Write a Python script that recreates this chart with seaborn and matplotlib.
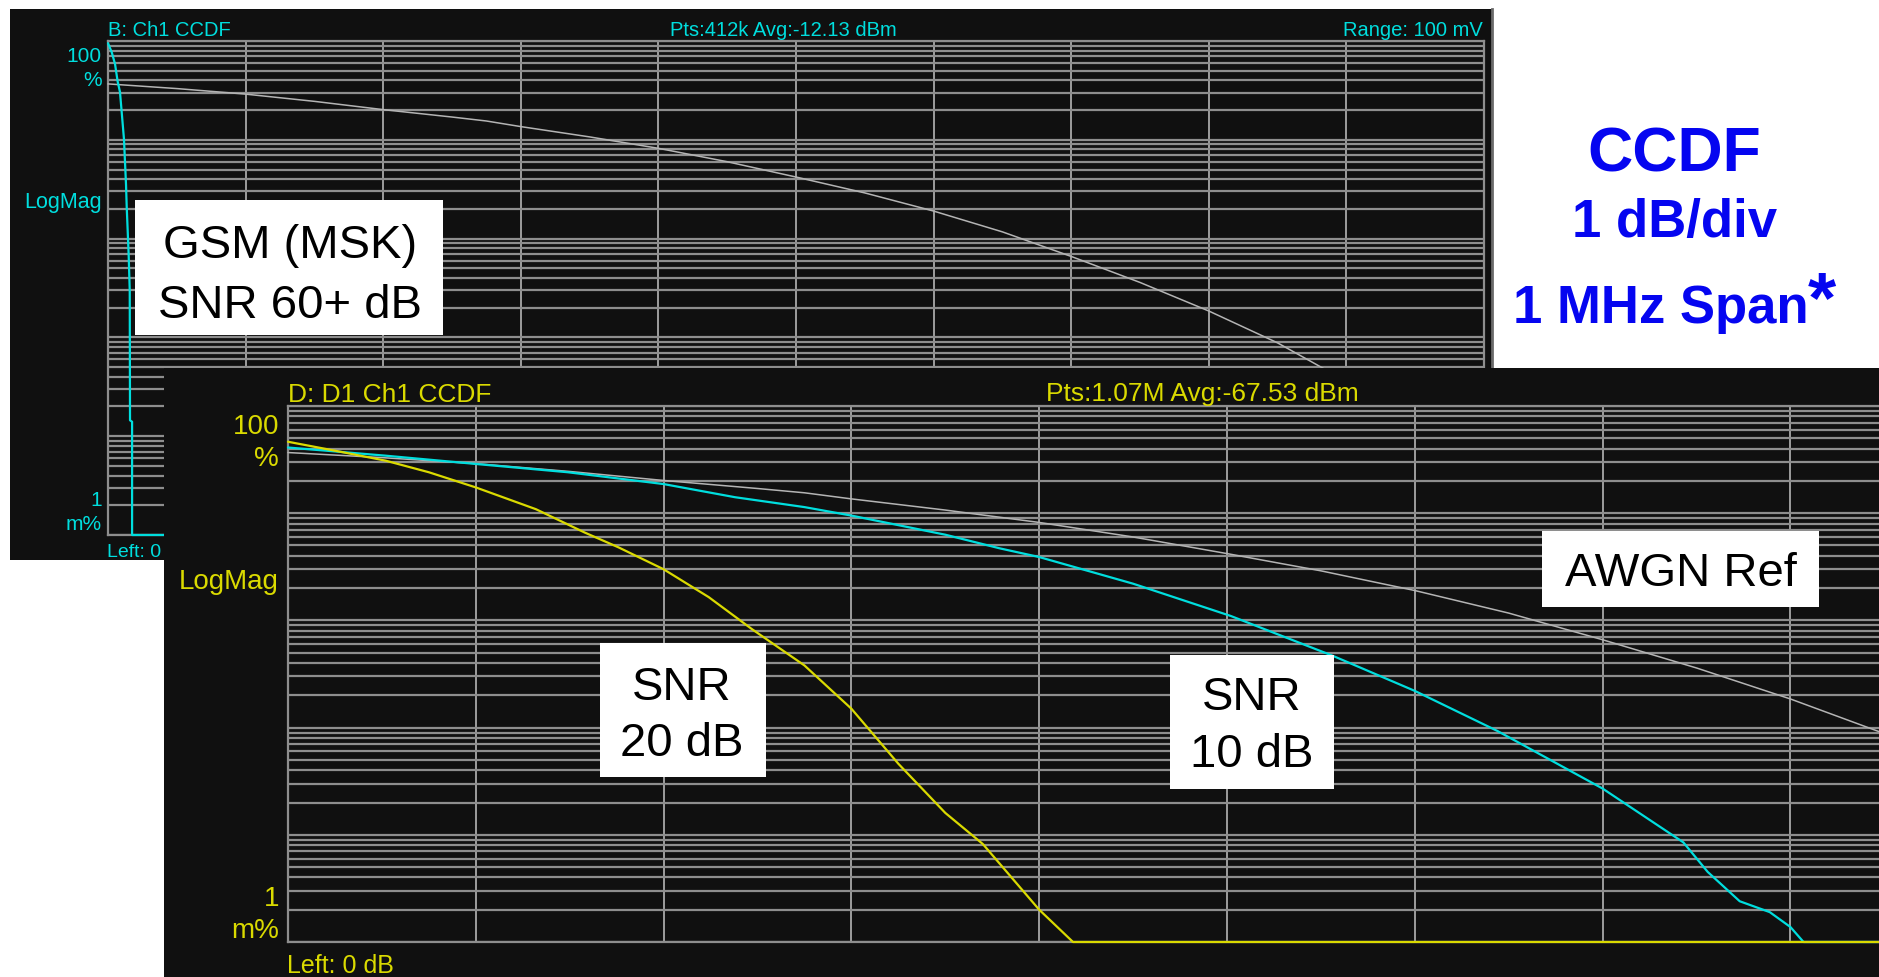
import numpy as np
import pandas as pd
import seaborn as sns
import matplotlib
matplotlib.use("Agg")
from matplotlib import pyplot as plt
from matplotlib.patches import Rectangle
from matplotlib.ticker import LogLocator, MultipleLocator, NullFormatter

# values read off the two analyser screens
# x: dB above average power, y: CCDF as a fraction (1 = 100 %, 1e-5 = 1 m%)
awgn_db = [0.0, 0.5, 1.0, 1.5, 2.0, 2.5, 2.75, 3.0, 3.5, 4.0, 4.5, 5.0,
           5.5, 6.0, 6.5, 7.0, 7.5, 8.0, 8.5, 9.0, 9.5, 10.0]
awgn_ccdf = [0.368, 0.33, 0.29, 0.245, 0.202, 0.17, 0.155, 0.136, 0.107, 0.082, 0.060, 0.042,
             0.029, 0.019, 0.0117, 0.0066, 0.0036, 0.00185, 0.00088, 0.00036, 0.00014, 0.00005]

gsm_db = [0.0, 0.027, 0.051, 0.07, 0.087, 0.10, 0.116, 0.131, 0.136, 0.150,
          0.158, 0.160, 0.175, 0.175, 10.0]
gsm_ccdf = [0.95, 0.77, 0.585, 0.39, 0.305, 0.187, 0.102, 0.035, 0.021, 0.0069,
            0.003, 0.000145, 0.00014, 0.00001, 0.00001]

snr10_db = [0.0, 0.52, 1.0, 1.49, 2.0, 2.38, 2.75, 3.0, 3.5, 3.79, 4.0, 4.5, 5.02, 5.56,
            6.0, 6.44, 7.0, 7.43, 7.56, 7.73, 7.89, 8.0, 8.07, 10.0]
snr10_ccdf = [0.41, 0.344, 0.288, 0.241, 0.187, 0.141, 0.114, 0.095, 0.063, 0.047, 0.039,
              0.022, 0.011, 0.0047, 0.0022, 0.00093, 0.00027, 0.000085, 0.000045,
              0.000024, 0.000019, 0.0000138, 0.00001, 0.00001]

snr20_db = [0.0, 0.25, 0.52, 0.75, 1.0, 1.32, 1.58, 1.76, 2.0, 2.24, 2.47, 2.75,
            3.0, 3.25, 3.5, 3.7, 4.0, 4.18, 10.0]
snr20_ccdf = [0.464, 0.383, 0.309, 0.241, 0.174, 0.109, 0.066, 0.048, 0.030, 0.0165,
              0.0083, 0.0038, 0.0015, 0.00046, 0.00016, 0.000082, 0.00002, 0.00001, 0.00001]

W, H = 1879, 978
SCREEN = "#101010"
H_GRID = "#8e8e8e"
V_GRID = "#a8a8a8"
CYAN = "#00dede"
YELLOW = "#dada00"
GREY = "#b4b4b4"
BLUE = "#0505f0"

sns.set_theme(style="white")
plt.rcParams["font.family"] = ["Liberation Sans", "DejaVu Sans"]


def box(x0, y0, x1, y1):
    """pixel box (top-left origin) -> figure fraction rect"""
    return [x0 / W, 1 - y1 / H, (x1 - x0) / W, (y1 - y0) / H]


def put(x, y, s, **kw):
    fig.text(x / W, 1 - y / H, s, **kw)


def style_screen(ax):
    ax.set_facecolor(SCREEN)
    ax.set_xlim(0, 10)
    ax.set_yscale("log")
    ax.set_ylim(1e-5, 1)
    ax.xaxis.set_major_locator(MultipleLocator(1))
    ax.yaxis.set_major_locator(LogLocator(base=10, numticks=12))
    ax.yaxis.set_minor_locator(LogLocator(base=10, subs=np.arange(2, 10), numticks=100))
    ax.yaxis.set_minor_formatter(NullFormatter())
    ax.xaxis.grid(True, which="major", color=V_GRID, lw=1.3)
    ax.yaxis.grid(True, which="both", color=H_GRID, lw=1.6)
    ax.tick_params(which="both", length=0, labelbottom=False, labelleft=False)
    for s in ax.spines.values():
        s.set_color(H_GRID)
        s.set_linewidth(1.6)
    ax.set_xlabel("")
    ax.set_ylabel("")


def trace(ax, xs, ys, color, lw):
    df = pd.DataFrame({"dB": xs, "ccdf": ys})
    sns.lineplot(data=df, x="dB", y="ccdf", ax=ax, color=color, lw=lw,
                 estimator=None, sort=False, legend=False, clip_on=False, zorder=3)


fig = plt.figure(figsize=(W / 100, H / 100), dpi=100)
fig.patch.set_facecolor("white")

# ---------------- upper screen (GSM) ----------------
top_bg = fig.add_axes(box(10, 10, 1492, 561), zorder=1)
top_bg.set_facecolor(SCREEN)
top_bg.set_xticks([])
top_bg.set_yticks([])
for k, s in top_bg.spines.items():
    s.set_visible(k == "right")
    s.set_color("#6a6a6a")
    s.set_linewidth(2)

top = fig.add_axes(box(108, 42, 1484, 536), zorder=2)
trace(top, awgn_db, awgn_ccdf, GREY, 1.1)
trace(top, gsm_db, gsm_ccdf, CYAN, 1.6)
style_screen(top)

tk = dict(color=CYAN, zorder=2.5)
put(108, 36, "B: Ch1 CCDF", fontsize=14.5, ha="left", **tk)
put(783, 36, "Pts:412k Avg:-12.13 dBm", fontsize=14.5, ha="center", **tk)
put(1483, 36, "Range: 100 mV", fontsize=14.5, ha="right", **tk)
put(102, 62, "100", fontsize=15, ha="right", **tk)
put(102, 86, "%", fontsize=15, ha="right", **tk)
put(102, 208, "LogMag", fontsize=15.5, ha="right", **tk)
put(102, 506, "1", fontsize=15, ha="right", **tk)
put(102, 530, "m%", fontsize=15, ha="right", **tk)
put(107, 557, "Left: 0", fontsize=14, ha="left", **tk)

fig.add_artist(Rectangle((135 / W, 1 - 336 / H), 308 / W, 135 / H,
                         transform=fig.transFigure, facecolor="white",
                         edgecolor="none", zorder=2.6))
put(290, 258, "GSM (MSK)", fontsize=34, ha="center", color="black", zorder=2.7)
put(290, 318, "SNR 60+ dB", fontsize=34, ha="center", color="black", zorder=2.7)

# ---------------- lower screen (SNR comparison) ----------------
bot_bg = fig.add_axes(box(164, 369, W + 5, H + 5), zorder=3)
bot_bg.set_facecolor(SCREEN)
bot_bg.set_xticks([])
bot_bg.set_yticks([])
for s in bot_bg.spines.values():
    s.set_visible(False)

bot = fig.add_axes(box(288, 407, 288 + 1878, 943), zorder=4)
trace(bot, awgn_db, awgn_ccdf, GREY, 1.1)
trace(bot, snr10_db, snr10_ccdf, CYAN, 1.6)
trace(bot, snr20_db, snr20_ccdf, YELLOW, 1.6)
style_screen(bot)

yk = dict(color=YELLOW, zorder=5)
put(288, 402, "D: D1 Ch1 CCDF", fontsize=19, ha="left", **yk)
put(1202, 401, "Pts:1.07M Avg:-67.53 dBm", fontsize=19, ha="center", **yk)
put(279, 434, "100", fontsize=20, ha="right", **yk)
put(279, 466, "%", fontsize=20, ha="right", **yk)
put(279, 589, "LogMag", fontsize=20, ha="right", **yk)
put(279, 906, "1", fontsize=20, ha="right", **yk)
put(279, 938, "m%", fontsize=20, ha="right", **yk)
put(287, 973, "Left: 0 dB", fontsize=18, ha="left", **yk)

labels = [
    ((600, 644, 766, 778), [("SNR", 700), ("20 dB", 756)], 682),
    ((1170, 656, 1334, 790), [("SNR", 710), ("10 dB", 767)], 1252),
    ((1542, 532, 1819, 608), [("AWGN Ref", 586)], 1681),
]
for (x0, y0, x1, y1), lines, cx in labels:
    fig.add_artist(Rectangle((x0 / W, 1 - y1 / H), (x1 - x0) / W, (y1 - y0) / H,
                             transform=fig.transFigure, facecolor="white",
                             edgecolor="none", zorder=6))
    for txt, base in lines:
        put(cx, base, txt, fontsize=34, ha="center", color="black", zorder=7)

# ---------------- caption on the white corner ----------------
put(1674, 172, "CCDF", fontsize=45, fontweight="bold", ha="center", color=BLUE)
put(1675, 237, "1 dB/div", fontsize=38, fontweight="bold", ha="center", color=BLUE)
put(1513, 323, "1 MHz Span", fontsize=38, fontweight="bold", ha="left", color=BLUE)
put(1808, 322, "*", fontsize=52, fontweight="bold", ha="left", color=BLUE)

fig.savefig("out.png", dpi=100, facecolor="white")
